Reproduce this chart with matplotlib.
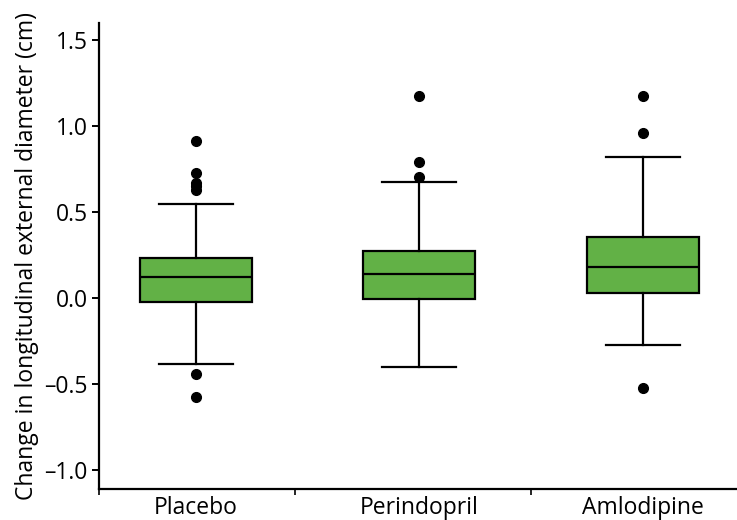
import matplotlib
matplotlib.use("Agg")
import matplotlib.pyplot as plt
from matplotlib.transforms import offset_copy

plt.rcParams['font.family'] = ['Open Sans', 'DejaVu Sans']

categories = ["Placebo", "Perindopril", "Amlodipine"]
q1 = [-0.022, -0.003, 0.030]
medians = [0.127, 0.141, 0.181]
q3 = [0.237, 0.276, 0.357]
whisker_lo = [-0.379, -0.400, -0.272]
whisker_hi = [0.549, 0.679, 0.819]
fliers = [
    [0.917, 0.728, 0.673, 0.650, 0.627, -0.439, -0.571],
    [1.177, 0.790, 0.708],
    [1.177, 0.958, -0.520],
]
yticks = [-1.0, -0.5, 0.0, 0.5, 1.0, 1.5]
ylabel = "Change in longitudinal external diameter (cm)"

stats = []
for i, c in enumerate(categories):
    stats.append(dict(label=c, q1=q1[i], med=medians[i], q3=q3[i],
                      whislo=whisker_lo[i], whishi=whisker_hi[i], fliers=fliers[i]))

fig = plt.figure(figsize=(7.37, 5.2), dpi=100)
ax = fig.add_axes([99/737, 1-488.7/520, 1-99/737, (488.7-23)/520])

positions = [1, 2, 3]
ax.bxp(stats, positions=positions, widths=0.5, patch_artist=True,
       boxprops=dict(facecolor="#62b146", edgecolor="black", linewidth=1.6),
       medianprops=dict(color="black", linewidth=1.6),
       whiskerprops=dict(color="black", linewidth=1.6),
       capprops=dict(color="black", linewidth=1.6),
       capwidths=0.33,
       flierprops=dict(marker="o", markerfacecolor="black", markeredgecolor="black", markersize=7))

ax.set_xlim(0.568, 3.42)
ax.set_ylim(-1.106, 1.60)
ax.set_yticks(yticks)
ax.set_yticklabels([f"{v:.1f}".replace("-", "\u2013") for v in yticks])

ax.set_xticks([0.568, 1.443, 2.5])
ax.set_xticklabels([])
trans = offset_copy(ax.get_xaxis_transform(), fig=fig, x=0, y=-25.5, units="dots")
for p, c in zip(positions, categories):
    ax.text(p, 0, c, transform=trans, ha="center", va="baseline", fontsize=16.5)

ax.spines["top"].set_visible(False)
ax.spines["right"].set_visible(False)
ax.spines["left"].set_linewidth(1.6)
ax.spines["bottom"].set_linewidth(1.6)
ax.tick_params(axis="y", direction="out", length=5, width=1.4, labelsize=16.5, pad=3)
ax.tick_params(axis="x", direction="out", length=4, width=1.2)
ax.set_ylabel(ylabel, fontsize=16.5, labelpad=4)

fig.savefig("out.png", dpi=100)
